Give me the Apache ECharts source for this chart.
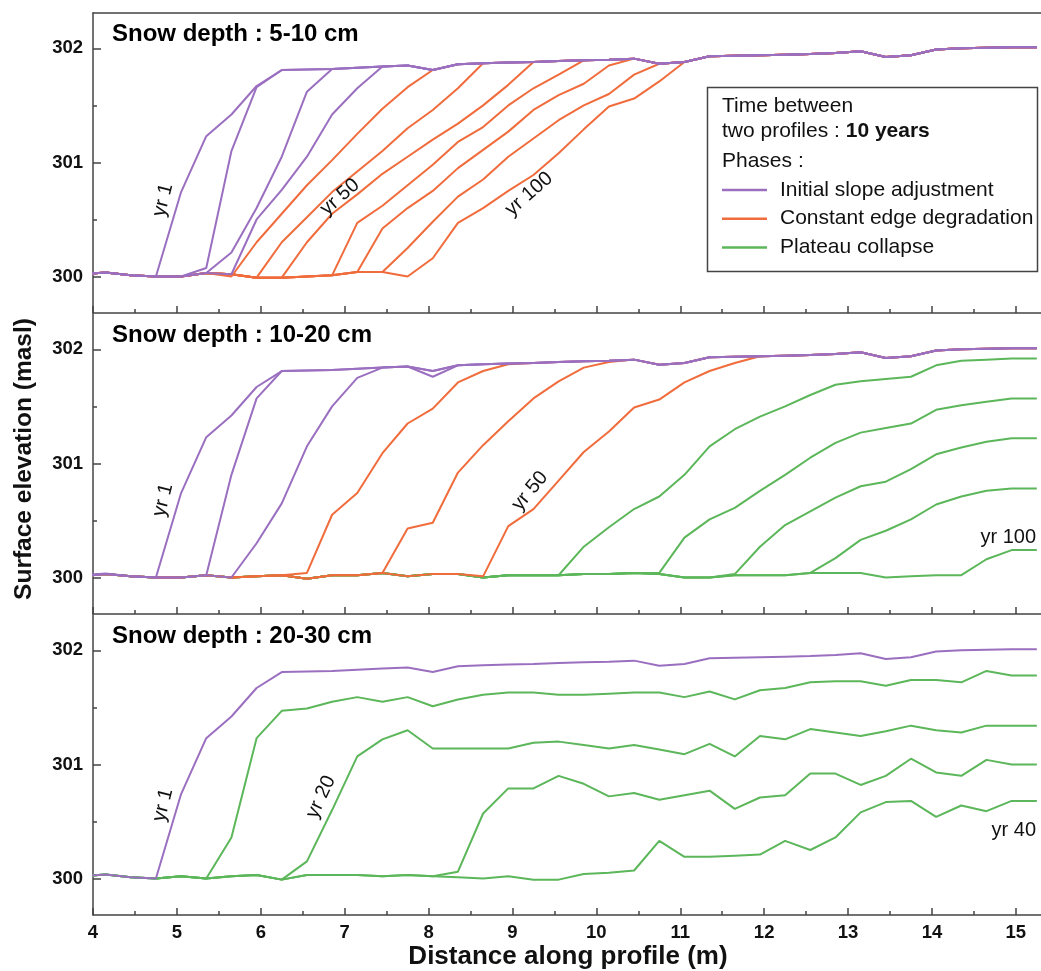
<!DOCTYPE html>
<html>
<head>
<meta charset="utf-8">
<title>Snow depth profiles</title>
<script src="https://cdn.jsdelivr.net/npm/echarts@6/dist/echarts.min.js"></script>
<style>
  html, body { margin: 0; padding: 0; background: #fff; }
  #chart { width: 1041px; height: 971px; }
</style>
</head>
<body>
<div id="chart"></div>
<script>
// distance along profile (m), one sample every 0.3 m
var distance = [3.85, 4.15, 4.45, 4.75, 5.05, 5.35, 5.65, 5.95, 6.25, 6.55, 6.85, 7.15, 7.45, 7.75,
  8.05, 8.35, 8.65, 8.95, 9.25, 9.55, 9.85, 10.15, 10.45, 10.75, 11.05, 11.35, 11.65, 11.95,
  12.25, 12.55, 12.85, 13.15, 13.45, 13.75, 14.05, 14.35, 14.65, 14.95, 15.25];

// yr 1 : same starting surface in the three runs (also the plateau the later profiles join)
var yr1 = [300.02, 300.035, 300.01, 300.0, 300.74, 301.23, 301.42, 301.67, 301.81, 301.815, 301.82,
  301.83, 301.84, 301.85, 301.81, 301.86, 301.87, 301.875, 301.88, 301.89, 301.895, 301.90, 301.91,
  301.865, 301.88, 301.93, 301.935, 301.94, 301.945, 301.95, 301.96, 301.975, 301.925, 301.94,
  301.99, 302.0, 302.005, 302.01, 302.01];

// ground in front of the slope foot
var base1 = [300.02, 300.035, 300.01, 300.0, 300.0, 300.03, 300.02, 299.99, 299.99, 300.0, 300.01,
  300.04, 300.04, 300.0];
var base2 = [300.01, 300.03, 300.01, 300.0, 300.0, 300.02, 300.0, 300.01, 300.02, 299.99, 300.02,
  300.02, 300.04, 300.01, 300.03, 300.03, 300.0, 300.02, 300.02, 300.02, 300.03, 300.03, 300.04,
  300.03, 300.0, 300.0, 300.02, 300.02, 300.02, 300.04, 300.04, 300.04, 300.0, 300.01, 300.02, 300.02];
var base3 = [300.02, 300.035, 300.01, 300.0, 300.02, 300.0, 300.02, 300.03, 299.99, 300.03, 300.03,
  300.03, 300.02, 300.03, 300.02, 300.01, 300.0, 300.02, 299.99, 299.99, 300.04, 300.05];

// later profiles: elevations from the foot (index given in the *_from arrays) up to the plateau
// snow depth 5-10 cm
var s1_yr10 = [300.075, 301.1, 301.66, 301.81];
var s1_yr20 = [300.03, 300.21, 300.6, 301.05, 301.62, 301.82];
var s1_yr30 = [300.02, 300.5, 300.76, 301.05, 301.42, 301.65, 301.84];
var s1_yr40 = [300.0, 300.3, 300.55, 300.8, 301.02, 301.25, 301.47, 301.66, 301.81];
var s1_yr50 = [299.99, 300.3, 300.52, 300.74, 300.92, 301.1, 301.3, 301.46, 301.65, 301.87];
var s1_yr60 = [299.99, 300.3, 300.55, 300.72, 300.9, 301.05, 301.2, 301.34, 301.5, 301.68, 301.88];
var s1_yr70 = [300.01, 300.47, 300.62, 300.8, 300.98, 301.18, 301.31, 301.5, 301.65, 301.77, 301.895];
var s1_yr80 = [300.04, 300.42, 300.6, 300.75, 300.95, 301.11, 301.27, 301.46, 301.59, 301.69, 301.85, 301.91];
var s1_yr90 = [300.04, 300.25, 300.48, 300.7, 300.85, 301.05, 301.21, 301.37, 301.5, 301.6, 301.77, 301.865];
var s1_yr100 = [300.0, 300.16, 300.47, 300.6, 300.75, 300.89, 301.08, 301.29, 301.49, 301.56, 301.71, 301.88];
var s1_from = [5, 5, 6, 6, 7, 8, 10, 11, 12, 13];
var s1_phase = [0, 0, 0, 1, 1, 1, 1, 1, 1, 1];

// snow depth 10-20 cm
var s2_yr10 = [300.02, 300.9, 301.57, 301.81];
var s2_yr20 = [300.0, 300.3, 300.65, 301.15, 301.5, 301.75, 301.84, 301.85, 301.76, 301.86];
var s2_yr30 = [300.04, 300.55, 300.74, 301.09, 301.35, 301.48, 301.71, 301.81, 301.87];
var s2_yr40 = [300.04, 300.43, 300.48, 300.92, 301.16, 301.37, 301.57, 301.72, 301.84, 301.89, 301.91];
var s2_yr50 = [300.01, 300.45, 300.6, 300.85, 301.1, 301.28, 301.49, 301.56, 301.71, 301.81, 301.88, 301.94];
var s2_yr60 = [300.02, 300.27, 300.44, 300.6, 300.71, 300.9, 301.15, 301.3, 301.41, 301.5, 301.6,
  301.69, 301.72, 301.74, 301.76, 301.86, 301.9, 301.91, 301.92, 301.92];
var s2_yr70 = [300.04, 300.35, 300.51, 300.61, 300.76, 300.9, 301.05, 301.18, 301.27, 301.31, 301.35,
  301.47, 301.51, 301.54, 301.57, 301.57];
var s2_yr80 = [300.03, 300.27, 300.46, 300.58, 300.7, 300.8, 300.84, 300.95, 301.08, 301.14, 301.19, 301.22, 301.22];
var s2_yr90 = [300.04, 300.17, 300.33, 300.41, 300.51, 300.64, 300.71, 300.76, 300.78, 300.78];
var s2_yr100 = [300.02, 300.16, 300.24, 300.24];
var s2_from = [5, 6, 9, 12, 16, 19, 23, 26, 29, 35];
var s2_phase = [0, 0, 1, 1, 1, 2, 2, 2, 2, 2];

// snow depth 20-30 cm
var s3_yr10 = [300.0, 300.36, 301.23, 301.47, 301.49, 301.55, 301.59, 301.55, 301.59, 301.51, 301.57,
  301.61, 301.63, 301.63, 301.61, 301.61, 301.62, 301.63, 301.63, 301.59, 301.64, 301.57, 301.65,
  301.67, 301.72, 301.73, 301.73, 301.69, 301.74, 301.74, 301.72, 301.82, 301.78, 301.78];
var s3_yr20 = [299.99, 300.15, 300.6, 301.07, 301.22, 301.3, 301.14, 301.14, 301.14, 301.14, 301.19,
  301.2, 301.17, 301.14, 301.17, 301.13, 301.09, 301.18, 301.07, 301.25, 301.22, 301.31, 301.28,
  301.25, 301.29, 301.34, 301.3, 301.28, 301.34, 301.34, 301.34];
var s3_yr30 = [300.06, 300.57, 300.79, 300.79, 300.9, 300.83, 300.72, 300.75, 300.69, 300.73, 300.77,
  300.61, 300.71, 300.73, 300.92, 300.92, 300.82, 300.9, 301.05, 300.93, 300.9, 301.04, 301.0, 301.0];
var s3_yr40 = [300.07, 300.33, 300.19, 300.19, 300.2, 300.21, 300.33, 300.25, 300.36, 300.58, 300.67,
  300.68, 300.54, 300.64, 300.59, 300.68, 300.68];
var s3_from = [5, 8, 15, 22];
var s3_phase = [2, 2, 2, 2];

var xMajor = [4, 5, 6, 7, 8, 9, 10, 11, 12, 13, 14, 15];
var xMinor = [4.5, 5.5, 6.5, 7.5, 8.5, 9.5, 10.5, 11.5, 12.5, 13.5, 14.5];
var yMajor = [300, 301, 302];
var yMinor = [300.5, 301.5];

var PHASES = ['Initial slope adjustment', 'Constant edge degradation', 'Plateau collapse'];
var COLORS = ['#9b6fc0', '#f06c3c', '#5cb65a'];
var FONT = "'Liberation Sans', Arial, sans-serif";

var panels = [
  { title: 'Snow depth : 5-10 cm', base: base1, from: s1_from, phase: s1_phase,
    lines: [s1_yr10, s1_yr20, s1_yr30, s1_yr40, s1_yr50, s1_yr60, s1_yr70, s1_yr80, s1_yr90, s1_yr100] },
  { title: 'Snow depth : 10-20 cm', base: base2, from: s2_from, phase: s2_phase,
    lines: [s2_yr10, s2_yr20, s2_yr30, s2_yr40, s2_yr50, s2_yr60, s2_yr70, s2_yr80, s2_yr90, s2_yr100] },
  { title: 'Snow depth : 20-30 cm', base: base3, from: s3_from, phase: s3_phase,
    lines: [s3_yr10, s3_yr20, s3_yr30, s3_yr40] }
];

function profile(base, from, seg) {
  var out = [];
  for (var i = 0; i < distance.length; i++) {
    var v = i < from ? base[i] : (i < from + seg.length ? seg[i - from] : yr1[i]);
    out.push([distance[i], v]);
  }
  return out;
}

var tops = [13, 314, 615];
var grid = [], xAxis = [], yAxis = [], series = [], graphic = [];
var axisColor = '#444';

tops.forEach(function (t, i) {
  grid.push({ left: 93, top: t, width: 949, height: 300 });
  var xi = xAxis.length, yi = yAxis.length;
  xAxis.push({
    gridIndex: i, type: 'value', min: 4, max: 15.3, position: 'bottom',
    axisLine: { onZero: false, lineStyle: { color: axisColor, width: 1.5 } },
    axisTick: { inside: true, length: 7, customValues: xMajor, lineStyle: { color: axisColor, width: 1.5 } },
    axisLabel: { show: i === 2, customValues: xMajor, margin: 8, fontSize: 18.5, fontWeight: 'bold', color: '#111', fontFamily: FONT },
    splitLine: { show: false }
  });
  xAxis.push({
    gridIndex: i, type: 'value', min: 4, max: 15.3, position: 'bottom',
    axisLine: { show: false, onZero: false },
    axisTick: { inside: true, length: 4, customValues: xMinor, lineStyle: { color: axisColor, width: 1.5 } },
    axisLabel: { show: false }, splitLine: { show: false }
  });
  if (i === 0) {
    xAxis.push({
      gridIndex: 0, type: 'value', min: 4, max: 15.3, position: 'top',
      axisLine: { onZero: false, lineStyle: { color: axisColor, width: 1.5 } },
      axisTick: { show: false }, axisLabel: { show: false }, splitLine: { show: false }
    });
  }
  yAxis.push({
    gridIndex: i, type: 'value', min: 299.68, max: 302.31, position: 'left',
    axisLine: { show: true, onZero: false, lineStyle: { color: axisColor, width: 1.5 } },
    axisTick: { show: true, inside: true, length: 8, customValues: yMajor, lineStyle: { color: axisColor, width: 1.5 } },
    axisLabel: { customValues: yMajor, margin: 10, fontSize: 18.5, fontWeight: 'bold', color: '#111', fontFamily: FONT },
    splitLine: { show: false }
  });
  yAxis.push({
    gridIndex: i, type: 'value', min: 299.68, max: 302.31, position: 'left',
    axisLine: { show: false, onZero: false },
    axisTick: { show: true, inside: true, length: 4, customValues: yMinor, lineStyle: { color: axisColor, width: 1.5 } },
    axisLabel: { show: false }, splitLine: { show: false }
  });

  var p = panels[i];
  // latest profiles first so the earlier ones end up on top
  for (var k = p.lines.length - 1; k >= -1; k--) {
    var ph = k < 0 ? 0 : p.phase[k];
    var data = k < 0 ? profile(p.base, 0, yr1) : profile(p.base, p.from[k], p.lines[k]);
    series.push({
      type: 'line', name: PHASES[ph], xAxisIndex: xi, yAxisIndex: yi, data: data,
      symbol: 'none', showSymbol: false, silent: true, animation: false,
      itemStyle: { color: COLORS[ph] },
      lineStyle: { color: COLORS[ph], width: 2 }
    });
  }

  graphic.push({ type: 'text', x: 112, y: t + 21, z: 10,
    style: { text: p.title, font: 'bold 24px ' + FONT, fill: '#000', verticalAlign: 'middle' } });
});

function label(text, x, y, deg, align) {
  graphic.push({ type: 'text', x: x, y: y, rotation: deg * Math.PI / 180, z: 10,
    style: { text: text, font: '20px ' + FONT, fill: '#111', align: align || 'center', verticalAlign: 'middle' } });
}
label('yr 1', 163, 200, 76);
label('yr 50', 340, 197, 41);
label('yr 100', 529, 194, 41);
label('yr 1', 163, 500, 76);
label('yr 50', 530, 491, 50);
label('yr 100', 1036, 537, 0, 'right');
label('yr 1', 163, 805, 76);
label('yr 20', 321, 797, 65);
label('yr 40', 1036, 830, 0, 'right');

// axis titles
graphic.push({ type: 'text', x: 24, y: 459, rotation: Math.PI / 2, z: 10,
  style: { text: 'Surface elevation (masl)', font: 'bold 24.5px ' + FONT, fill: '#111', align: 'center', verticalAlign: 'middle' } });
graphic.push({ type: 'text', x: 568, y: 957, z: 10,
  style: { text: 'Distance along profile (m)', font: 'bold 26px ' + FONT, fill: '#111', align: 'center', verticalAlign: 'middle' } });

// legend box
graphic.push({ type: 'rect', z: 3, shape: { x: 707.5, y: 87.5, width: 330, height: 184 },
  style: { fill: '#fff', stroke: '#444', lineWidth: 1.5 } });
graphic.push({ type: 'text', x: 722, y: 106, z: 5,
  style: { text: 'Time between', font: '21px ' + FONT, fill: '#111', verticalAlign: 'middle' } });
graphic.push({ type: 'text', x: 722, y: 131, z: 5,
  style: { text: 'two profiles : {b|10 years}', font: '21px ' + FONT, fill: '#111', verticalAlign: 'middle',
    rich: { b: { fontWeight: 'bold', fontSize: 21, fontFamily: FONT, fill: '#111' } } } });
graphic.push({ type: 'text', x: 722, y: 161, z: 5,
  style: { text: 'Phases :', font: '21px ' + FONT, fill: '#111', verticalAlign: 'middle' } });

var chart = echarts.init(document.getElementById('chart'), null, { renderer: 'canvas' });
chart.setOption({
  animation: false,
  backgroundColor: '#fff',
  grid: grid,
  xAxis: xAxis,
  yAxis: yAxis,
  legend: {
    data: PHASES, orient: 'vertical', left: 722, top: 179.5, z: 6,
    icon: 'rect', itemWidth: 45, itemHeight: 2.5, itemGap: 7.7, selectedMode: false,
    padding: 0,
    textStyle: { fontSize: 21, color: '#111', fontFamily: FONT, padding: [0, 0, 0, 8] }
  },
  graphic: graphic,
  series: series
});
</script>
</body>
</html>
